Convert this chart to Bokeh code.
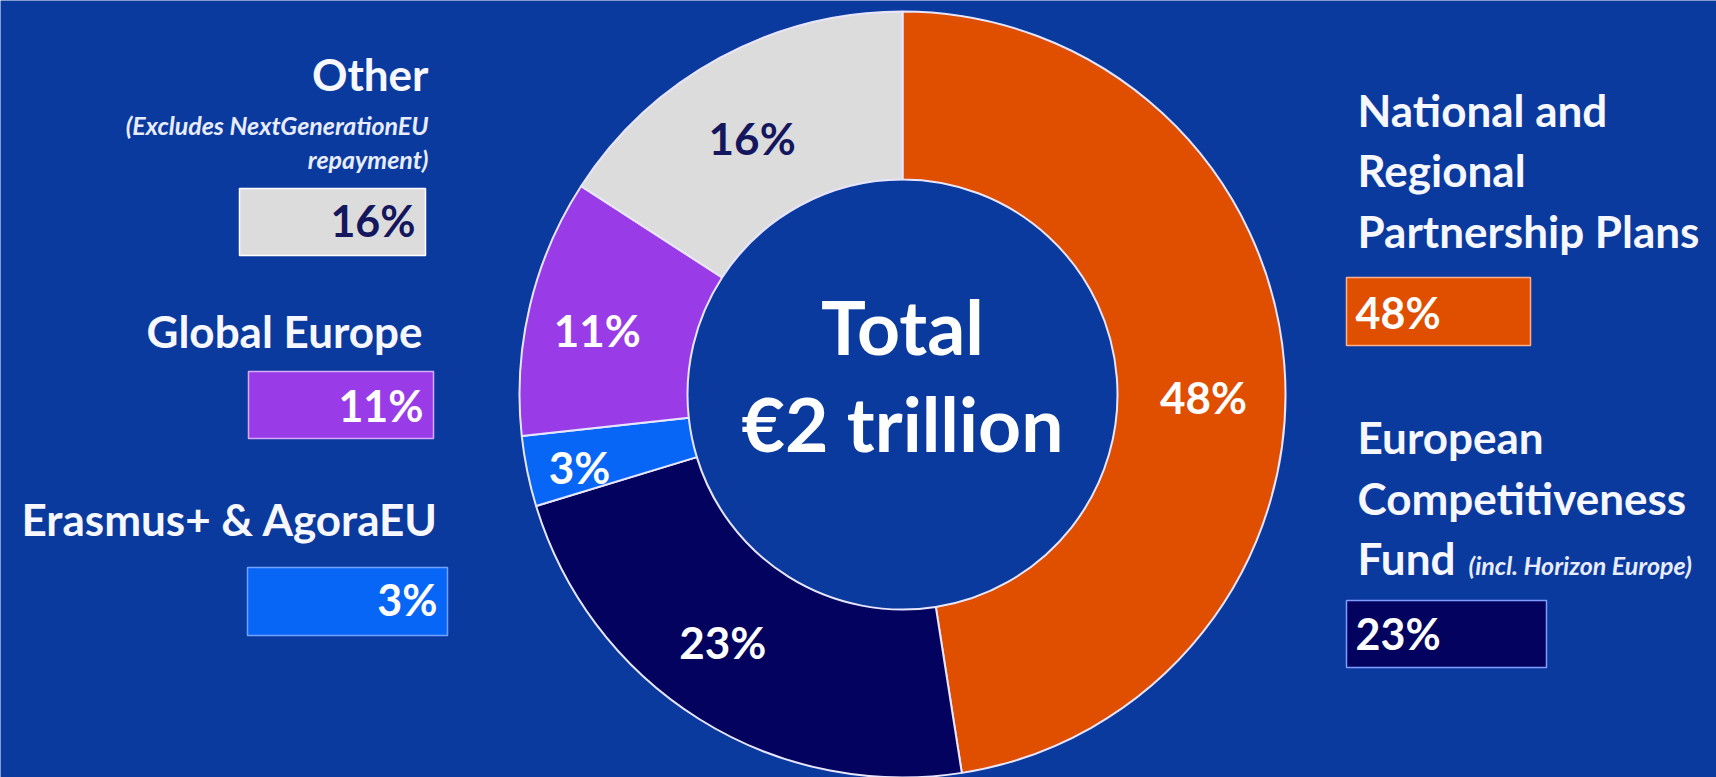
import numpy as np
from bokeh.plotting import figure
from bokeh.models import ColumnDataSource, Range1d
from bokeh.core.properties import value
from bokeh.embed import file_html
from bokeh.resources import INLINE

# ---------------- data ----------------
categories = ["National and Regional Partnership Plans",
              "European Competitiveness Fund",
              "Erasmus+ & AgoraEU",
              "Global Europe",
              "Other"]
shares = [48, 23, 3, 11, 16]
share_labels = ["48%", "23%", "3%", "11%", "16%"]
slice_colors = ["#e04e00", "#03035f", "#0866f6", "#9a3be8", "#dddcdc"]
label_colors = ["#ffffff", "#ffffff", "#ffffff", "#ffffff", "#15175e"]
total_lines = ["Total", "€2 trillion"]
notes = ["(Excludes NextGenerationEU", "repayment)", "(incl. Horizon Europe)"]

# ---------------- style / layout ----------------
BG = "#0a3a9e"
FONT = "Lato"
PAGE_W, PAGE_H = 1716, 777


def Y(py):
    return PAGE_H - py


CX, CY = 902, Y(394)
R_IN, R_OUT = 215, 383

p = figure(width=PAGE_W, height=PAGE_H, x_range=Range1d(0, PAGE_W), y_range=Range1d(0, PAGE_H),
           output_backend="svg", toolbar_location=None, min_border=0,
           x_axis_location=None, y_axis_location=None)
p.background_fill_color = BG
p.border_fill_color = BG
p.outline_line_color = None
p.grid.visible = False

# ---------------- donut ----------------
frac = np.array(shares, dtype=float) / sum(shares)
cum = np.concatenate([[0.0], np.cumsum(frac)])
start = np.pi / 2 - 2 * np.pi * cum[:-1]
end = np.pi / 2 - 2 * np.pi * cum[1:]
mid = (start + end) / 2

src = ColumnDataSource(dict(start=start, end=end, color=slice_colors, cat=categories))
p.annular_wedge(x=CX, y=CY, inner_radius=R_IN, outer_radius=R_OUT,
                start_angle="start", end_angle="end", direction="clock",
                fill_color="color", line_color="#e8e6ff", line_width=2, source=src)

# slice labels (polar placement: per-label radius and small angular nudge)
label_r = [301, 306, 331, 312, 297]
label_nudge_deg = [-4.9, -3.9, 1.0, 1.4, 1.9]
ang = mid + np.radians(label_nudge_deg)
lsrc = ColumnDataSource(dict(x=CX + np.array(label_r) * np.cos(ang),
                             y=CY + np.array(label_r) * np.sin(ang),
                             t=share_labels, c=label_colors))
p.text(x="x", y="y", text="t", text_color="c", source=lsrc,
       text_font=value(FONT), text_font_size="44px", text_font_style="bold",
       text_align="center", text_baseline="middle")

# centre text
p.text(x=[CX, CX], y=[Y(325), Y(422)], text=total_lines, text_color="#ffffff",
       text_font=value(FONT), text_font_size="75px", text_font_style="bold",
       text_align="center", text_baseline="middle")

# ---------------- legend boxes ----------------
# order follows categories: orange, navy, blue, purple, gray
box_left = [1346, 1346, 247, 248, 239]
box_right = [1530, 1546, 447, 433, 425]
box_top = [277, 600, 567, 371, 188]
box_bottom = [345, 667, 635, 438, 255]
box_line = ["#ffb08a", "#7f9cff", "#6fa3ff", "#d9a8ff", "#ffffff"]
p.quad(left=box_left, right=box_right, top=[Y(v) for v in box_top],
       bottom=[Y(v) for v in box_bottom], fill_color=slice_colors,
       line_color=box_line, line_width=1.5)

box_tx = [1355, 1355, 437, 423, 415]
box_ty = [312, 633, 599, 405, 220]
box_align = ["left", "left", "right", "right", "right"]
for i in range(len(shares)):
    p.text(x=[box_tx[i]], y=[Y(box_ty[i])], text=[share_labels[i]],
           text_color=label_colors[i], text_font=value(FONT),
           text_font_size="43px", text_font_style="bold",
           text_align=box_align[i], text_baseline="middle")

# ---------------- category titles ----------------
title_lines = [
    ("National and", 1357, 109, "left"),
    ("Regional", 1357, 169, "left"),
    ("Partnership Plans", 1357, 230, "left"),
    ("European", 1357, 436, "left"),
    ("Competitiveness", 1357, 497, "left"),
    ("Fund", 1357, 557, "left"),
    (categories[2], 438, 518, "right"),
    (categories[3], 422, 330, "right"),
    (categories[4], 428, 73, "right"),
]
for t, x, y, a in title_lines:
    p.text(x=[x], y=[Y(y)], text=[t], text_color="#f6f7ff",
           text_font=value(FONT), text_font_size="44px", text_font_style="bold",
           text_align=a, text_baseline="middle")

note_lines = [
    (notes[0], 428, 124, "right"),
    (notes[1], 428, 158, "right"),
    (notes[2], 1468, 564, "left"),
]
for t, x, y, a in note_lines:
    p.text(x=[x], y=[Y(y)], text=[t], text_color="#e8ecff",
           text_font=value(FONT), text_font_size="25px", text_font_style="bold italic",
           text_align=a, text_baseline="middle")

open("out.html", "w").write(file_html(p, INLINE))
